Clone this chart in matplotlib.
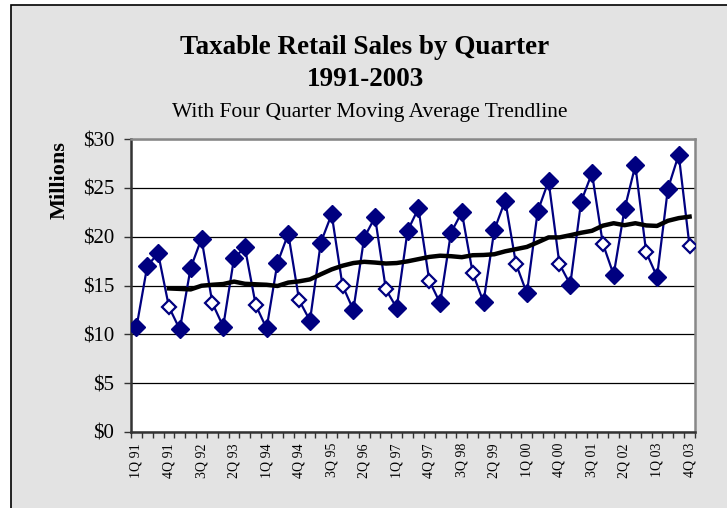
import numpy as np
import pandas as pd
import matplotlib
matplotlib.use("Agg")
import matplotlib.pyplot as plt
from matplotlib.patches import Rectangle

# quarterly taxable retail sales, millions of dollars, 1Q91 .. 4Q03
years = ["91", "92", "93", "94", "95", "96", "97", "98", "99", "00", "01", "02", "03"]
quarters = [str(q) + "Q " + y for y in years for q in range(1, 5)]
sales = [10.7, 17.0, 18.3, 12.8,
         10.5, 16.8, 19.8, 13.2,
         10.8, 17.8, 18.9, 13.0,
         10.6, 17.3, 20.3, 13.5,
         11.4, 19.4, 22.3, 15.0,
         12.5, 19.9, 22.0, 14.6,
         12.7, 20.6, 22.9, 15.5,
         13.2, 20.4, 22.5, 16.3,
         13.3, 20.7, 23.7, 17.2,
         14.2, 22.6, 25.7, 17.2,
         15.1, 23.6, 26.5, 19.3,
         16.1, 22.8, 27.3, 18.4,
         15.9, 24.9, 28.4, 19.0]

df = pd.DataFrame({"quarter": quarters, "sales": sales})
df["ma4"] = df["sales"].rolling(4).mean()
x = np.arange(len(df))
q4 = df["quarter"].str.startswith("4Q")

plt.rcParams["font.family"] = ["Liberation Serif", "DejaVu Serif"]

fig = plt.figure(figsize=(7.27, 5.08), dpi=100)
fig.patch.set_facecolor("white")
# chart area: grey panel with black border
panel = Rectangle((11 / 727, -0.05), 1.0, 1 - 5 / 508 + 0.05,
                  transform=fig.transFigure, facecolor="#e3e3e3",
                  edgecolor="black", linewidth=1.2, zorder=-5)
fig.patches.append(panel)

ax = fig.add_axes([131 / 727, 1 - 432 / 508, (695 - 131) / 727, (432 - 139) / 508])
ax.set_facecolor("white")

navy = "#000080"
ax.plot(x, df["sales"], color=navy, lw=1.6, zorder=3)
ax.plot(x[~q4], df["sales"][~q4], ls="none", marker="D", ms=9,
        mfc=navy, mec=navy, zorder=4)
ax.plot(x[q4], df["sales"][q4], ls="none", marker="D", ms=7.2,
        mfc="white", mec=navy, mew=1.6, zorder=4)
ax.plot(x, df["ma4"], color="black", lw=3.2, zorder=3.5)

ax.set_xlim(-0.5, len(df) - 0.5)
ax.set_ylim(0, 30)
ax.set_yticks(range(0, 31, 5))
ax.set_yticklabels(["$" + str(v) for v in range(0, 31, 5)], fontsize=15)
ax.yaxis.grid(True, color="black", lw=0.9)
ax.set_axisbelow(True)
ax.tick_params(axis="y", direction="out", length=5, width=1, color="#333333", pad=7)

ax.set_xticks(x[::3])
ax.set_xticklabels(df["quarter"][::3], rotation=90, fontsize=10)
ax.set_xticks(np.arange(-0.5, len(df), 1), minor=True)
ax.tick_params(axis="x", which="major", length=0, pad=8)
ax.tick_params(axis="x", which="minor", direction="out", length=4, width=1, color="#333333")

for side in ["left", "bottom"]:
    ax.spines[side].set_color("#333333")
    ax.spines[side].set_linewidth(1.8)
for side in ["top", "right"]:
    ax.spines[side].set_color("#888888")
    ax.spines[side].set_linewidth(1.8)

ax.set_ylabel("Millions", fontsize=16, fontweight="bold")
ax.yaxis.set_label_coords(-(131 - 70) / 564, (432 - 180) / 293)

fig.text(365 / 727, 1 - 47 / 508, "Taxable Retail Sales by Quarter", ha="center", va="center",
         fontsize=19.5, fontweight="bold")
fig.text(365 / 727, 1 - 80 / 508, "1991-2003", ha="center", va="center",
         fontsize=19.5, fontweight="bold")
fig.text(370 / 727, 1 - 112 / 508, "With Four Quarter Moving Average Trendline", ha="center",
         va="center", fontsize=15.5)

fig.savefig("out.png", dpi=100)
